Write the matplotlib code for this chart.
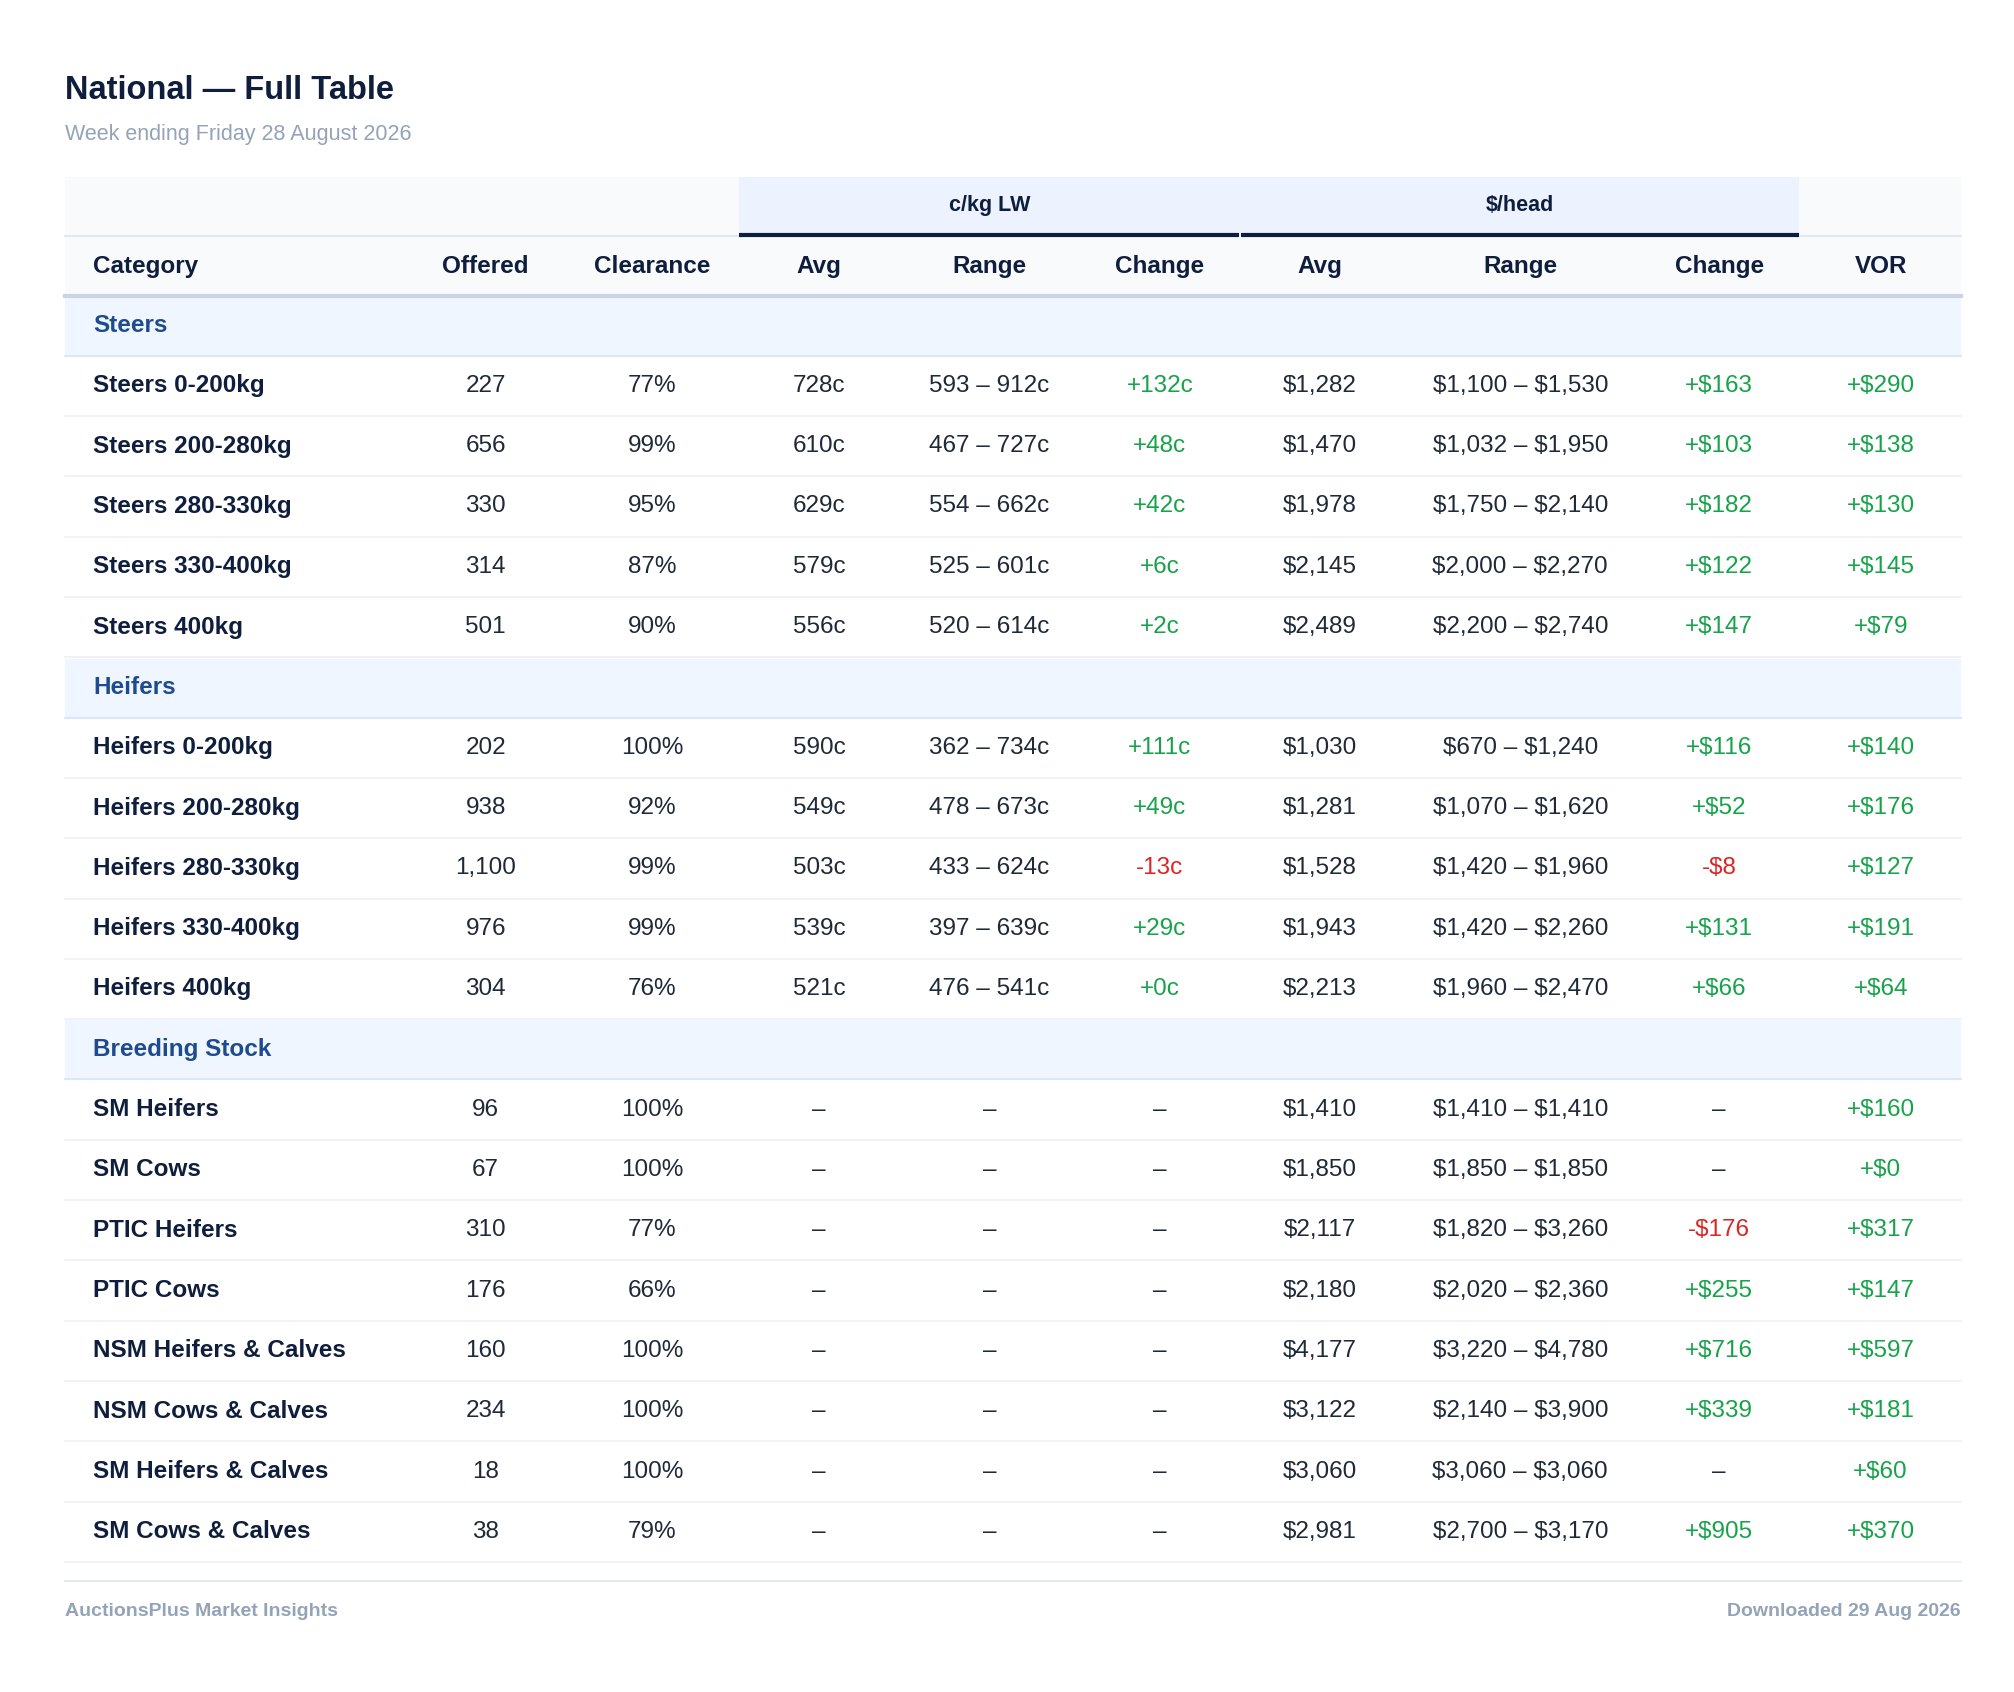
import matplotlib.pyplot as plt
from matplotlib.patches import Rectangle

plt.rcParams['font.family'] = ['Liberation Sans', 'DejaVu Sans']
plt.rcParams['text.parse_math'] = False

# Data ------------------------
title = "National \u2014 Full Table"
subtitle = "Week ending Friday 28 August 2026"
columns = ["Category", "Offered", "Clearance", "Avg", "Range", "Change", "Avg", "Range", "Change", "VOR"]
sections = ["Steers", "Heifers", "Breeding Stock"]
categories = [
    ["Steers 0-200kg", "Steers 200-280kg", "Steers 280-330kg", "Steers 330-400kg", "Steers 400kg"],
    ["Heifers 0-200kg", "Heifers 200-280kg", "Heifers 280-330kg", "Heifers 330-400kg", "Heifers 400kg"],
    ["SM Heifers", "SM Cows", "PTIC Heifers", "PTIC Cows", "NSM Heifers & Calves",
     "NSM Cows & Calves", "SM Heifers & Calves", "SM Cows & Calves"],
]
offered = [["227", "656", "330", "314", "501"],
           ["202", "938", "1,100", "976", "304"],
           ["96", "67", "310", "176", "160", "234", "18", "38"]]
clearance = [["77%", "99%", "95%", "87%", "90%"],
             ["100%", "92%", "99%", "99%", "76%"],
             ["100%", "100%", "77%", "66%", "100%", "100%", "100%", "79%"]]
c_avg = [["728c", "610c", "629c", "579c", "556c"],
         ["590c", "549c", "503c", "539c", "521c"],
         ["\u2013"] * 8]
c_range = [["593 \u2013 912c", "467 \u2013 727c", "554 \u2013 662c", "525 \u2013 601c", "520 \u2013 614c"],
           ["362 \u2013 734c", "478 \u2013 673c", "433 \u2013 624c", "397 \u2013 639c", "476 \u2013 541c"],
           ["\u2013"] * 8]
c_change = [["+132c", "+48c", "+42c", "+6c", "+2c"],
            ["+111c", "+49c", "-13c", "+29c", "+0c"],
            ["\u2013"] * 8]
h_avg = [["$1,282", "$1,470", "$1,978", "$2,145", "$2,489"],
         ["$1,030", "$1,281", "$1,528", "$1,943", "$2,213"],
         ["$1,410", "$1,850", "$2,117", "$2,180", "$4,177", "$3,122", "$3,060", "$2,981"]]
h_range = [["$1,100 \u2013 $1,530", "$1,032 \u2013 $1,950", "$1,750 \u2013 $2,140", "$2,000 \u2013 $2,270", "$2,200 \u2013 $2,740"],
           ["$670 \u2013 $1,240", "$1,070 \u2013 $1,620", "$1,420 \u2013 $1,960", "$1,420 \u2013 $2,260", "$1,960 \u2013 $2,470"],
           ["$1,410 \u2013 $1,410", "$1,850 \u2013 $1,850", "$1,820 \u2013 $3,260", "$2,020 \u2013 $2,360",
            "$3,220 \u2013 $4,780", "$2,140 \u2013 $3,900", "$3,060 \u2013 $3,060", "$2,700 \u2013 $3,170"]]
h_change = [["+$163", "+$103", "+$182", "+$122", "+$147"],
            ["+$116", "+$52", "-$8", "+$131", "+$66"],
            ["\u2013", "\u2013", "-$176", "+$255", "+$716", "+$339", "\u2013", "+$905"]]
vor = [["+$290", "+$138", "+$130", "+$145", "+$79"],
       ["+$140", "+$176", "+$127", "+$191", "+$64"],
       ["+$160", "+$0", "+$317", "+$147", "+$597", "+$181", "+$60", "+$370"]]
footer_left = "AuctionsPlus Market Insights"
footer_right = "Downloaded 29 Aug 2026"
# -----------------------------

NAVY = "#0f1e3c"
GREY = "#94a3b8"
GREEN = "#16a34a"
RED = "#dc2626"
SEC = "#1e4b8f"

fig = plt.figure(figsize=(20.15, 16.92), dpi=100)
ax = fig.add_axes([0, 0, 1, 1])
ax.set_xlim(0, 1560)
ax.set_ylim(1310, 0)
ax.axis("off")

L, R = 50, 1518
col_x = [72, 376, 505, 634, 766, 898, 1022, 1177, 1331, 1456]
fs = 17.5

ax.text(L, 70, title, fontsize=23.5, fontweight="bold", color=NAVY, va="center")
ax.text(L, 104, subtitle, fontsize=15.5, color=GREY, va="center")

# header backgrounds
ax.add_patch(Rectangle((L, 137), R - L, 92, color="#f8fafc", lw=0))
ax.add_patch(Rectangle((572, 137), 960 - 572, 46, color="#ecf3fe", lw=0))
ax.add_patch(Rectangle((960, 137), 1393 - 960, 46, color="#ecf3fe", lw=0))
ax.plot([L, 572], [183, 183], color="#e2e8f0", lw=1.5)
ax.plot([1393, R], [183, 183], color="#e2e8f0", lw=1.5)
ax.plot([572, 959], [182, 182], color=NAVY, lw=3, solid_capstyle="butt")
ax.plot([961, 1393], [182, 182], color=NAVY, lw=3, solid_capstyle="butt")
ax.text(766, 159, "c/kg LW", fontsize=15.5, fontweight="bold", color=NAVY, ha="center", va="center")
ax.text(1177, 159, "$/head", fontsize=15.5, fontweight="bold", color=NAVY, ha="center", va="center")
for i, c in enumerate(columns):
    ax.text(col_x[i], 206, c, fontsize=fs, fontweight="bold", color=NAVY,
            ha="left" if i == 0 else "center", va="center")
ax.plot([L, R], [229.5, 229.5], color="#cbd5e1", lw=3)

step = 46.7
y = 252
for s, name in enumerate(sections):
    ax.add_patch(Rectangle((L, y - step / 2 + 1), R - L, step - 1, color="#eff6ff", lw=0))
    ax.plot([L, R], [y + step / 2, y + step / 2], color="#dbe7f8", lw=1.5)
    ax.text(col_x[0], y, name, fontsize=fs, fontweight="bold", color=SEC, va="center")
    y += step
    for r, cat in enumerate(categories[s]):
        vals = [cat, offered[s][r], clearance[s][r], c_avg[s][r], c_range[s][r], c_change[s][r],
                h_avg[s][r], h_range[s][r], h_change[s][r], vor[s][r]]
        for i, v in enumerate(vals):
            color = "#1f2937"
            if i in (5, 8, 9):
                color = GREEN if v.startswith("+") else RED if v.startswith("-") else "#1f2937"
            ax.text(col_x[i], y, v, fontsize=fs, fontweight="bold" if i == 0 else "normal",
                    color=NAVY if i == 0 else color, ha="left" if i == 0 else "center", va="center")
        ax.plot([L, R], [y + step / 2, y + step / 2], color="#eef0f3", lw=1.2)
        y += step

ax.plot([L, R], [1224, 1224], color="#e2e8f0", lw=1.5)
ax.text(L, 1248, footer_left, fontsize=14, fontweight="bold", color=GREY, va="center")
ax.text(R, 1248, footer_right, fontsize=14, fontweight="bold", color=GREY, va="center", ha="right")

fig.savefig("out.png", dpi=100, facecolor="white")
